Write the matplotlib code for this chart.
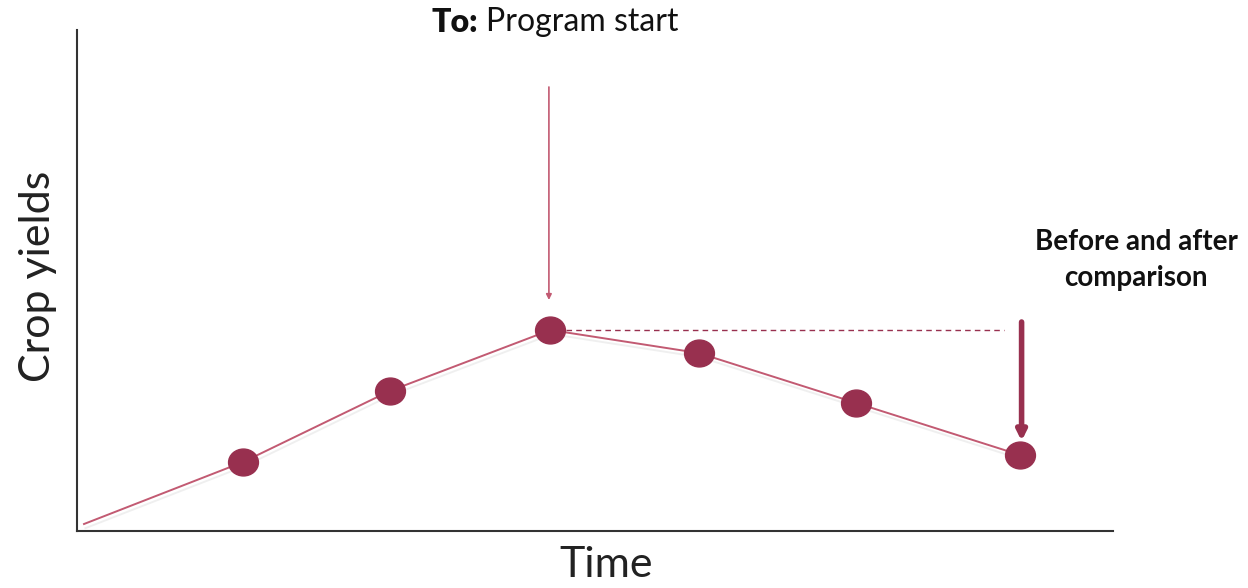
import matplotlib
matplotlib.use("Agg")
import matplotlib.pyplot as plt
from matplotlib.path import Path
from matplotlib.transforms import Affine2D
import matplotlib.patheffects as pe

# Yield trajectory over time
time = [0, 1.02, 1.96, 2.99, 3.94, 4.95, 6.0]
yields = [0.7, 6.9, 14.0, 20.1, 17.8, 12.8, 7.6]
program_start_idx = 3

plt.rcParams['font.family'] = ['Lato', 'DejaVu Sans']

W, H = 1248, 588
fig = plt.figure(figsize=(W / 100, H / 100), dpi=100)
ax = fig.add_axes([77 / W, (H - 531) / H, (1113 - 77) / W, (531 - 30) / H])
ax.set_xlim(-0.045, 6.596)
ax.set_ylim(0, 50.1)

maroon = '#98304F'
line_col = '#C25A72'

# ellipse-shaped marker
ell = Path.unit_circle().transformed(Affine2D().scale(1.0, 0.9))

ax.plot(time, yields, color=line_col, lw=1.4, zorder=2,
        path_effects=[pe.SimpleLineShadow(offset=(1, -3), shadow_color='#cccccc', alpha=0.3, rho=1.0),
                      pe.Normal()])
ax.plot(time[1:], yields[1:], ls='none', marker=ell, ms=21.5, color=maroon,
        mec=maroon, zorder=3)

# dashed reference level at program start
ax.plot([time[program_start_idx] + 0.1, 5.9], [yields[program_start_idx]] * 2,
        ls=(0, (4, 3)), color=maroon, lw=1.0, zorder=2)

# program start arrow
ax.annotate('', xy=(time[program_start_idx] - 0.01, 23.1),
            xytext=(time[program_start_idx] - 0.01, 44.4),
            arrowprops=dict(arrowstyle='-|>', color=line_col, lw=1.2,
                            mutation_scale=8, shrinkA=0, shrinkB=0))

# comparison arrow
ax.annotate('', xy=(time[-1] + 0.01, 9.0),
            xytext=(time[-1] + 0.01, 20.9),
            arrowprops=dict(arrowstyle='-|>', color=maroon, lw=4,
                            mutation_scale=14, shrinkA=0, shrinkB=0))

# header: bold lead-in followed by regular text
t1 = fig.text(432 / W, 1 - 22 / H, 'To:', ha='left', va='center',
              fontsize=23, fontweight='heavy', color='#111111')
fig.canvas.draw()
bb = t1.get_window_extent()
fig.text((bb.x1 + 7) / W, 1 - 22 / H, 'Program start', ha='left', va='center',
         fontsize=23, color='#111111')

fig.text(1136 / W, 1 - 260 / H, 'Before and after\ncomparison', ha='center',
         va='center', fontsize=20, fontweight='bold', color='#111111',
         linespacing=1.5)

fig.text(606 / W, 1 - 565 / H, 'Time', ha='center', va='center',
         fontsize=31, color='#222222')
fig.text(38 / W, 1 - 276 / H, 'Crop yields', ha='center', va='center',
         rotation=90, fontsize=31, color='#222222')

for s in ['top', 'right']:
    ax.spines[s].set_visible(False)
for s in ['left', 'bottom']:
    ax.spines[s].set_color('#333333')
    ax.spines[s].set_linewidth(1.5)
ax.set_xticks([])
ax.set_yticks([])

fig.savefig('out.png', dpi=100)
